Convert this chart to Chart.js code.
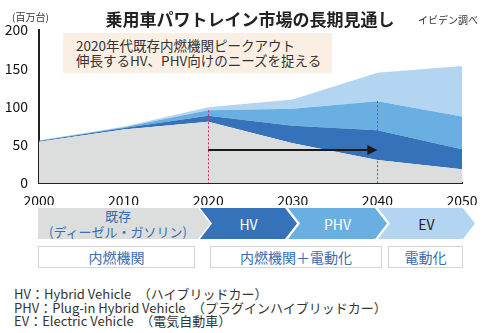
<!DOCTYPE html>
<html>
<head>
<meta charset="utf-8">
<style>
  body { margin: 0; background: #fff; font-family: "Noto Sans CJK JP", "Noto Sans", sans-serif; color: #333; }
  #wrap { position: relative; width: 500px; height: 333px; overflow: hidden; }
  #chartBox { position: absolute; left: 0; top: 0; width: 500px; height: 205px; }
  .abs { position: absolute; white-space: nowrap; }
  #title { left: 0; width: 500px; top: 6px; text-align: center; font-size: 17px; font-weight: bold; color: #222; }
  #unit { left: 12px; top: 9px; font-size: 10px; }
  #source { left: 418px; top: 12px; font-size: 10px; }
  #note { left: 63px; top: 33px; width: 269px; height: 40px; background: #fbefe4; font-size: 13.5px; line-height: 15px; padding: 5px 0 0 13px; box-sizing: border-box; }
  .chev { position: absolute; top: 208px; height: 31px; display: flex; align-items: center; justify-content: center; font-size: 14px; white-space: nowrap; }
  .box { position: absolute; top: 246px; height: 22px; border: 1px solid #d4d6d6; box-sizing: border-box; display: flex; align-items: center; justify-content: center; font-size: 14px; color: #3a6db3; }
  #legend { left: 14px; top: 287px; font-size: 13px; line-height: 13.5px; color: #333; }
</style>
</head>
<body>
<div id="wrap">
  <div id="chartBox"><canvas id="marketChart"></canvas></div>
  <div class="abs" id="title">乗用車パワトレイン市場の長期見通し</div>
  <div class="abs" id="unit">(百万台)</div>
  <div class="abs" id="source">イビデン調べ</div>
  <div class="abs" id="note">2020年代既存内燃機関ピークアウト<br>伸長するHV、PHV向けのニーズを捉える</div>

  <div class="chev" style="left:38px;width:172px;background:#dcdddd;color:#3a6db3;font-size:13px;line-height:16px;text-align:center;padding-right:12px;box-sizing:border-box;clip-path:polygon(0 0,160px 0,172px 50%,160px 100%,0 100%);">既存<br>(ディーゼル・ガソリン)</div>
  <div class="chev" style="left:200px;width:97px;background:#3672b9;color:#fff;clip-path:polygon(0 0,85px 0,97px 50%,85px 100%,0 100%,12px 50%);">HV</div>
  <div class="chev" style="left:288px;width:99px;background:#6aafe2;color:#fff;clip-path:polygon(0 0,87px 0,99px 50%,87px 100%,0 100%,12px 50%);">PHV</div>
  <div class="chev" style="left:378px;width:97px;background:#b3d5f1;color:#222;clip-path:polygon(0 0,85px 0,97px 50%,85px 100%,0 100%,12px 50%);">EV</div>

  <div class="box" style="left:38px;width:157px;">内燃機関</div>
  <div class="box" style="left:210px;width:172px;">内燃機関＋電動化</div>
  <div class="box" style="left:388px;width:75px;">電動化</div>

  <div class="abs" id="legend">HV：Hybrid Vehicle　（ハイブリッドカー）<br>PHV：Plug-in Hybrid Vehicle　（プラグインハイブリッドカー）<br>EV：Electric Vehicle　（電気自動車）</div>
</div>

<script src="https://cdn.jsdelivr.net/npm/chart.js"></script>
<script>
    // data (百万台)
    const years = ['2000', '2010', '2020', '2030', '2040', '2050'];
    const iceData = [54, 70, 80, 52, 30, 18];
    const hvData = [1, 2, 8, 23, 39, 26];
    const phvData = [0.5, 1, 7, 22, 38, 43];
    const evData = [0, 0.5, 4, 12, 37, 66];
    const yTicks = [0, 50, 100, 150, 200];
    const markerYears = ['2020', '2040'];
    const arrowValue = 43;

    // dotted red lines + black arrow
    const overlayPlugin = {
        id: 'overlay',
        afterDatasetsDraw(chart) {
            const ctx = chart.ctx;
            const x = chart.scales.x, y = chart.scales.y;
            ctx.save();
            ctx.strokeStyle = '#e8265a';
            ctx.lineWidth = 1;
            ctx.setLineDash([2, 2]);
            markerYears.forEach(yr => {
                const i = years.indexOf(yr);
                const top = iceData[i] + hvData[i] + phvData[i];
                const px = Math.round(x.getPixelForValue(i)) + 0.5;
                ctx.beginPath();
                ctx.moveTo(px, y.getPixelForValue(top));
                ctx.lineTo(px, y.getPixelForValue(0));
                ctx.stroke();
            });
            ctx.setLineDash([]);
            const x1 = x.getPixelForValue(years.indexOf(markerYears[0]));
            const x2 = x.getPixelForValue(years.indexOf(markerYears[1]));
            const ay = y.getPixelForValue(arrowValue);
            ctx.strokeStyle = '#1a1a1a';
            ctx.fillStyle = '#1a1a1a';
            ctx.lineWidth = 2;
            ctx.beginPath();
            ctx.moveTo(x1, ay);
            ctx.lineTo(x2 - 8, ay);
            ctx.stroke();
            ctx.beginPath();
            ctx.moveTo(x2, ay);
            ctx.lineTo(x2 - 10, ay - 5);
            ctx.lineTo(x2 - 10, ay + 5);
            ctx.closePath();
            ctx.fill();
            ctx.restore();
        }
    };

    const ds = (label, data, color, fill) => ({
        label: label,
        data: data,
        backgroundColor: color,
        borderWidth: 0,
        pointRadius: 0,
        tension: 0,
        fill: fill
    });

    const marketCtx = document.getElementById('marketChart').getContext('2d');
    const marketChart = new Chart(marketCtx, {
        type: 'line',
        data: {
            labels: years,
            datasets: [
                ds('既存', iceData, '#dcdddd', 'origin'),
                ds('HV', hvData, '#3672b9', '-1'),
                ds('PHV', phvData, '#6aafe2', '-1'),
                ds('EV', evData, '#b3d5f1', '-1')
            ]
        },
        options: {
            responsive: true,
            maintainAspectRatio: false,
            animation: false,
            layout: { padding: { top: 30, right: 38, left: 0, bottom: 0 } },
            plugins: {
                legend: { display: false },
                tooltip: { enabled: false }
            },
            scales: {
                x: {
                    offset: false,
                    grid: { display: false },
                    border: { display: true, color: '#222', width: 2 },
                    ticks: {
                        color: '#111', padding: 1,
                        maxRotation: 0, autoSkip: false,
                        font: { family: '"Noto Sans CJK JP", sans-serif', size: 14 }
                    },
                    afterFit(scale) { scale.height = 22; }
                },
                y: {
                    stacked: true,
                    min: 0, max: 200,
                    grid: { display: false },
                    border: { display: true, color: '#222', width: 2 },
                    afterBuildTicks(scale) { scale.ticks = yTicks.map(v => ({ value: v })); },
                    ticks: {
                        color: '#111', padding: 3,
                        font: { family: '"Noto Sans CJK JP", sans-serif', size: 14 }
                    },
                    afterFit(scale) { scale.width = 39; }
                }
            }
        },
        plugins: [overlayPlugin]
    });
</script>
</body>
</html>
